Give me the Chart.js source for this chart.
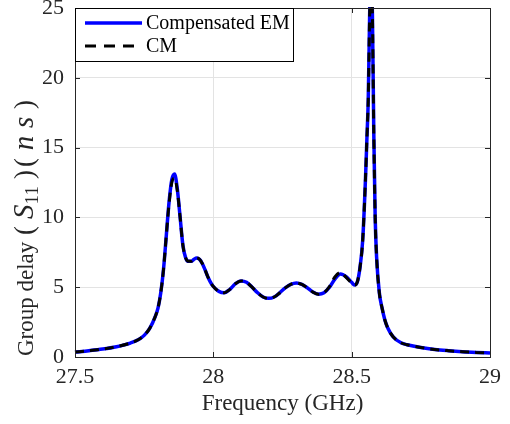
<!DOCTYPE html>
<html>
<head>
<meta charset="utf-8">
<script src="https://cdn.jsdelivr.net/npm/chart.js@4.4.1/dist/chart.umd.min.js"></script>
<style>
  body { margin: 0; background: #fff; }
  #wrap { width: 510px; height: 424px; }
</style>
</head>
<body>
<div id="wrap"><canvas id="groupDelay" width="510" height="424"></canvas></div>
<script>
// frequency points (GHz)
const freqGHz = [
  27.50, 27.55, 27.60, 27.65, 27.70, 27.73, 27.75, 27.77, 27.79, 27.80,
  27.81, 27.82, 27.83, 27.84, 27.85, 27.86, 27.87, 27.88, 27.89, 27.90,
  27.91, 27.92, 27.93, 27.94, 27.95, 27.96, 27.97, 27.98, 27.99, 28.00,
  28.02, 28.04, 28.06, 28.08, 28.10, 28.12, 28.14, 28.16, 28.18, 28.20,
  28.22, 28.24, 28.26, 28.28, 28.30, 28.32, 28.34, 28.36, 28.38, 28.40,
  28.42, 28.44, 28.46, 28.48, 28.50, 28.51, 28.52, 28.53, 28.54, 28.55,
  28.555, 28.56, 28.565, 28.57, 28.575, 28.58, 28.585, 28.59, 28.60, 28.61,
  28.62, 28.63, 28.65, 28.68, 28.70, 28.75, 28.80, 28.85, 28.90, 28.95,
  29.00
];

// group delay (ns), compensated EM simulation
const emDelay = [
  0.35, 0.45, 0.57, 0.74, 1.00, 1.25, 1.55, 2.05, 2.90, 3.50,
  4.60, 6.30, 8.70, 11.1, 12.7, 13.1, 12.0, 10.0, 8.0, 7.1,
  6.85, 6.85, 7.0, 7.1, 7.0, 6.7, 6.25, 5.75, 5.35, 5.05,
  4.7, 4.6, 4.85, 5.25, 5.45, 5.35, 5.0, 4.6, 4.3, 4.2,
  4.3, 4.6, 4.95, 5.2, 5.3, 5.2, 4.95, 4.65, 4.5, 4.6,
  5.0, 5.6, 5.95, 5.75, 5.35, 5.15, 5.35, 6.4, 8.4, 12.8,
  15.6, 18.5, 24.5, 27.5, 24.5, 16.0, 10.0, 7.2, 4.6, 3.5,
  2.65, 2.1, 1.45, 1.0, 0.88, 0.68, 0.54, 0.45, 0.38, 0.33,
  0.29
];

// group delay (ns), coupling matrix
const cmDelay = [
  0.35, 0.45, 0.57, 0.74, 1.00, 1.25, 1.55, 2.05, 2.90, 3.50,
  4.60, 6.30, 8.70, 11.0, 12.5, 12.8, 11.9, 10.0, 8.0, 7.1,
  6.85, 6.85, 7.0, 7.1, 7.0, 6.7, 6.25, 5.75, 5.35, 5.05,
  4.7, 4.6, 4.85, 5.25, 5.45, 5.35, 5.0, 4.6, 4.3, 4.2,
  4.3, 4.6, 4.95, 5.2, 5.3, 5.2, 4.95, 4.65, 4.5, 4.6,
  5.05, 5.75, 6.05, 5.7, 5.3, 5.15, 5.35, 6.4, 8.4, 12.8,
  15.6, 18.5, 24.5, 27.5, 24.5, 16.0, 10.0, 7.2, 4.6, 3.5,
  2.65, 2.1, 1.45, 1.0, 0.88, 0.68, 0.54, 0.45, 0.38, 0.33,
  0.29
];

const seriesNames = ['Compensated EM', 'CM'];
const xTicks = [27.5, 28, 28.5, 29];
const yTicks = [0, 5, 10, 15, 20, 25];

const serif = '"Liberation Serif", "Times New Roman", serif';
const axisColor = '#262626';
const gridColor = '#e3e3e3';

function toPoints(ys) {
  return freqGHz.map((f, i) => ({ x: f, y: ys[i] }));
}

function edgeGrid(ticks) {
  return c => {
    if (!c.tick) return gridColor;
    const v = c.tick.value;
    return (v === ticks[0] || v === ticks[ticks.length - 1]) ? 'rgba(0,0,0,0)' : gridColor;
  };
}

function noPad(scale) {
  scale.paddingTop = 0;
  scale.paddingBottom = 0;
  scale.paddingLeft = 0;
  scale.paddingRight = 0;
}

// spreads chars of a math group over a given length along the baseline
function drawGroup(ctx, parts, from, to) {
  let natural = 0;
  parts.forEach(p => { ctx.font = p.f; p.w = ctx.measureText(p.t).width; natural += p.w; });
  const gaps = parts.filter(p => !p.tight).length - 1;
  const extra = gaps > 0 ? Math.max(0, (to - from - natural) / gaps) : 0;
  let x = from;
  parts.forEach((p, i) => {
    ctx.font = p.f;
    ctx.fillText(p.t, x, p.dy || 0);
    x += p.w;
    const next = parts[i + 1];
    if (next && !next.tight) x += extra;
  });
}

const framePlugin = {
  id: 'frame',
  afterDraw(chart) {
    const ctx = chart.ctx;
    const a = chart.chartArea;
    const sx = chart.scales.x;
    const sy = chart.scales.y;

    ctx.save();
    // axes box + inward ticks
    ctx.strokeStyle = axisColor;
    ctx.lineWidth = 1;
    ctx.strokeRect(a.left + 0.5, a.top + 0.5, a.right - a.left, a.bottom - a.top);
    ctx.beginPath();
    xTicks.forEach(v => {
      const px = Math.round(sx.getPixelForValue(v)) + 0.5;
      ctx.moveTo(px, a.bottom); ctx.lineTo(px, a.bottom - 5);
      ctx.moveTo(px, a.top); ctx.lineTo(px, a.top + 5);
    });
    yTicks.forEach(v => {
      const py = Math.round(sy.getPixelForValue(v)) + 0.5;
      ctx.moveTo(a.left, py); ctx.lineTo(a.left + 5, py);
      ctx.moveTo(a.right, py); ctx.lineTo(a.right - 5, py);
    });
    ctx.stroke();

    // legend
    const lx = a.left, ly = a.top, lw = 218, lh = 53;
    ctx.fillStyle = '#fff';
    ctx.fillRect(lx, ly, lw, lh);
    ctx.strokeStyle = '#000';
    ctx.strokeRect(lx + 0.5, ly + 0.5, lw, lh);
    ctx.lineWidth = 3.5;
    ctx.strokeStyle = '#0000ff';
    ctx.beginPath(); ctx.moveTo(lx + 10, ly + 15); ctx.lineTo(lx + 67, ly + 15); ctx.stroke();
    ctx.lineWidth = 3;
    ctx.strokeStyle = '#000';
    ctx.setLineDash([11, 8]);
    ctx.beginPath(); ctx.moveTo(lx + 10, ly + 38); ctx.lineTo(lx + 67, ly + 38); ctx.stroke();
    ctx.setLineDash([]);
    ctx.fillStyle = '#000';
    ctx.font = '20px ' + serif;
    ctx.textBaseline = 'alphabetic';
    ctx.textAlign = 'left';
    ctx.fillText(seriesNames[0], lx + 71, ly + 21);
    ctx.fillText(seriesNames[1], lx + 71, ly + 44);

    // y axis title, rotated
    ctx.translate(33, 356);
    ctx.rotate(-Math.PI / 2);
    ctx.fillStyle = axisColor;
    ctx.font = '23px ' + serif;
    ctx.fillText('Group delay', 0, 0);
    const up = '27px ' + serif;
    const it = 'italic 29px ' + serif;
    const sub = '19px ' + serif;
    drawGroup(ctx, [
      { t: '(', f: up }, { t: 'S', f: it }, { t: '11', f: sub, dy: 5, tight: true }, { t: ')', f: up }
    ], 121, 186);
    drawGroup(ctx, [
      { t: '(', f: up }, { t: 'n', f: it }, { t: 's', f: it }, { t: ')', f: up }
    ], 189, 256);
    ctx.restore();
  }
};

const ctx = document.getElementById('groupDelay');
new Chart(ctx, {
  type: 'line',
  data: {
    datasets: [{
      label: seriesNames[0],
      data: toPoints(emDelay),
      borderColor: '#0000ff',
      borderWidth: 3.5,
      order: 2
    }, {
      label: seriesNames[1],
      data: toPoints(cmDelay),
      borderColor: '#000000',
      borderWidth: 3,
      borderDash: [9, 6],
      order: 1
    }]
  },
  options: {
    responsive: false,
    devicePixelRatio: 1,
    animation: false,
    layout: { padding: { top: 8, right: 20, bottom: 0, left: 0 } },
    elements: {
      point: { radius: 0 },
      line: { cubicInterpolationMode: 'monotone', fill: false }
    },
    datasets: { line: { clip: 1 } },
    plugins: {
      legend: { display: false },
      tooltip: { enabled: false }
    },
    scales: {
      x: {
        type: 'linear',
        min: 27.5,
        max: 29,
        afterBuildTicks: s => { s.ticks = xTicks.map(v => ({ value: v })); },
        afterFit: s => { s.height = 67; noPad(s); },
        grid: { color: edgeGrid(xTicks), drawTicks: false },
        border: { display: false },
        ticks: {
          color: axisColor,
          font: { family: serif, size: 22 },
          padding: 7,
          maxRotation: 0,
          callback: v => String(v)
        },
        title: {
          display: true,
          text: 'Frequency (GHz)',
          color: axisColor,
          font: { family: serif, size: 23 },
          padding: { top: 0, bottom: 6 }
        }
      },
      y: {
        min: 0,
        max: 25,
        afterBuildTicks: s => { s.ticks = yTicks.map(v => ({ value: v })); },
        afterFit: s => { s.width = 75; noPad(s); },
        grid: { color: edgeGrid(yTicks), drawTicks: false },
        border: { display: false },
        ticks: {
          color: axisColor,
          font: { family: serif, size: 22 },
          padding: 11,
          callback: v => String(v)
        }
      }
    }
  },
  plugins: [framePlugin]
});
</script>
</body>
</html>
